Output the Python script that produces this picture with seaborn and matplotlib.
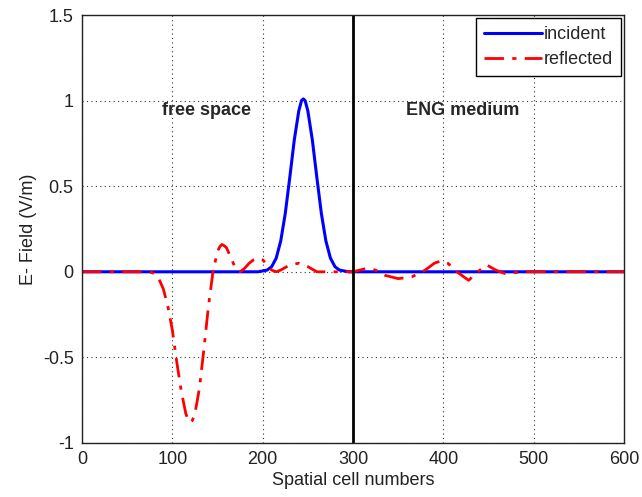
import numpy as np
import pandas as pd
import matplotlib
matplotlib.use("Agg")
import matplotlib.pyplot as plt
import seaborn as sns

# =========================================================
# Data
# =========================================================

# Incident pulse (blue)
inc_cells = [0, 195, 205, 210, 215, 220, 225, 230, 235, 240, 243, 245, 247,
             250, 255, 260, 265, 270, 275, 280, 285, 295, 600]
inc_field = [0, 0, 0.01, 0.03, 0.08, 0.18, 0.34, 0.55, 0.77, 0.94, 1.0, 1.01,
             1.0, 0.94, 0.77, 0.55, 0.34, 0.18, 0.08, 0.03, 0.01, 0, 0]

# Reflected pulse (red dash-dot)
ref_cells = [0, 75, 80, 85, 90, 95, 100, 105, 110, 115, 118, 120, 122, 125,
             130, 135, 140, 145, 150, 153, 155, 158, 160, 165, 170, 175, 180,
             185, 190, 195, 200, 205, 210, 215, 220, 230, 240, 250, 260, 280,
             300, 315, 325, 335, 350, 365, 380, 390, 398, 405, 415, 428, 438,
             448, 458, 468, 478, 490, 600]
ref_field = [0, 0, -0.01, -0.04, -0.1, -0.2, -0.34, -0.53, -0.7, -0.83, -0.87,
             -0.88, -0.87, -0.83, -0.68, -0.45, -0.2, 0.0, 0.12, 0.15, 0.16,
             0.15, 0.14, 0.08, 0.02, 0.0, 0.02, 0.05, 0.07, 0.08, 0.07, 0.04,
             0.01, 0.0, 0.01, 0.04, 0.05, 0.03, 0.0, 0.0, 0.0, 0.02, 0.01,
             -0.02, -0.04, -0.03, 0.01, 0.05, 0.065, 0.05, 0.0, -0.05, 0.0,
             0.04, 0.01, -0.01, -0.005, 0, 0]

interface_cell = 300

df_inc = pd.DataFrame({"cell": inc_cells, "field": inc_field})
df_ref = pd.DataFrame({"cell": ref_cells, "field": ref_field})

# =========================================================
# Plot
# =========================================================

sns.set_style("white")
plt.rcParams['font.family'] = ['Liberation Sans', 'DejaVu Sans']
plt.rcParams['font.size'] = 13

fig = plt.figure(figsize=(6.42, 4.97), dpi=100)
ax = fig.add_axes([0.1277, 0.1087, 0.8443, 0.8611])

sns.lineplot(data=df_inc, x="cell", y="field", color="#0000ff",
             linewidth=2.2, label="incident", ax=ax)
sns.lineplot(data=df_ref, x="cell", y="field", color="#ff0000",
             linewidth=2.0, label="reflected", ax=ax)
ax.lines[1].set_dashes([7, 3, 1.5, 3])

ax.axvline(interface_cell, color="black", linewidth=2)

ax.set_xlim(0, 600)
ax.set_ylim(-1, 1.5)
ax.set_xticks(range(0, 601, 100))
ax.set_yticks([-1, -0.5, 0, 0.5, 1, 1.5])
ax.set_yticklabels(["-1", "-0.5", "0", "0.5", "1", "1.5"])
ax.grid(True, linestyle=(0, (1, 3)), color="#333333", linewidth=0.8)
ax.tick_params(direction="in", length=4, color="black", labelsize=13,
               labelcolor="#222222", pad=6)
for sp in ax.spines.values():
    sp.set_color("#222222")
    sp.set_linewidth(1)

ax.text(89, 0.94, "free space", fontsize=13, fontweight="bold", va="center")
ax.text(359, 0.94, "ENG medium", fontsize=13, fontweight="bold", va="center")

ax.set_xlabel("Spatial cell numbers", fontsize=13, color="#222222", labelpad=3)
ax.set_ylabel("E- Field (V/m)", fontsize=13, color="#222222", labelpad=4)

leg = ax.legend(loc="upper right", fancybox=False, framealpha=1,
                edgecolor="black", fontsize=13, borderaxespad=0.15,
                handlelength=3.2, handletextpad=0.1, borderpad=0.45,
                labelspacing=0.45)
leg.get_frame().set_linewidth(1)

fig.savefig("out.png", dpi=100)
